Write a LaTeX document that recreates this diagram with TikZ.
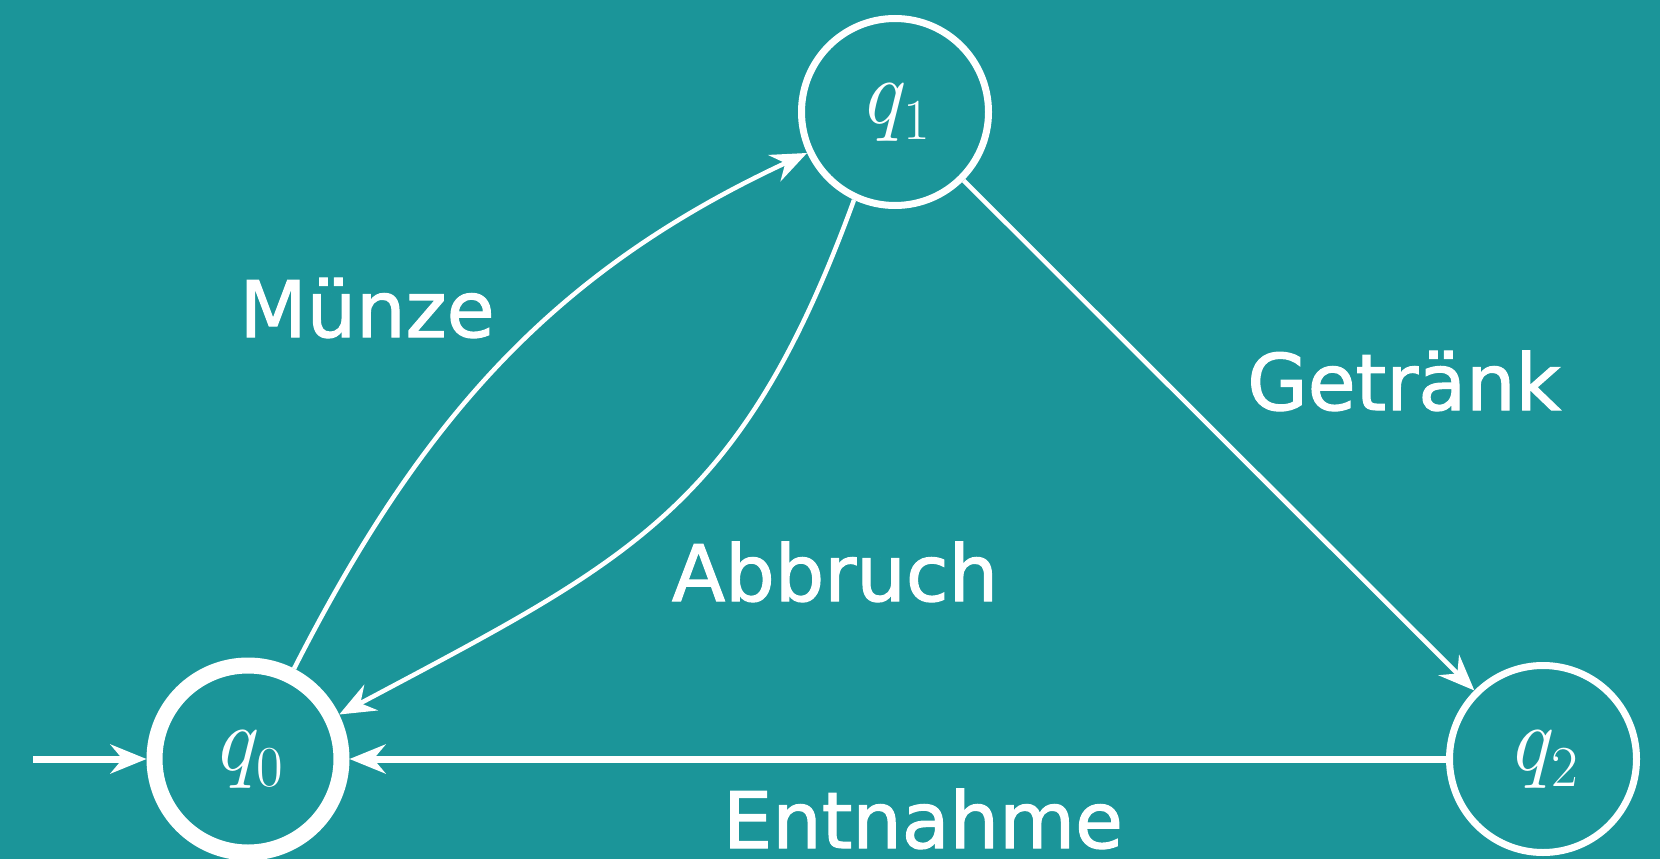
\documentclass[tikz,border=0pt]{standalone}
\usepackage{amsmath}
\usepackage{fontspec}
\setmainfont{DejaVu Sans}
\newfontfamily\beschriftfont[FakeBold=1.5]{DejaVu Sans}
\newfontfamily\zustandfont{Latin Modern Roman}
\usepackage{tikz}
\usetikzlibrary{arrows.meta,positioning}
\definecolor{bgteal}{RGB}{27,149,153}
\newcommand{\zname}[2]{{\zustandfont\itshape #1}\kern0.03em\raisebox{-0.18em}{\fontsize{58}{58}\selectfont\zustandfont #2}}
\tikzset{
  zustand/.style={circle,draw=white,line width=7pt,minimum size=187pt,inner sep=0pt,text=white,font=\fontsize{92}{100}\selectfont},
  startzustand/.style={zustand,line width=16pt},
  uebergang/.style={draw=white,line width=4.5pt,-{Stealth[length=36pt,width=29pt,inset=12pt]}},
  beschriftung/.style={text=white,anchor=base,inner sep=0pt,font=\beschriftfont\fontsize{78}{90}\selectfont},
}

\begin{document}
\begin{tikzpicture}[x=1pt,y=1pt,yscale=-1,xscale=1]
%Background
\fill[bgteal] (0,0) rectangle (1660,859);
\useasboundingbox (0,0) rectangle (1660,859);

%Shape: Circle [q0]
\node[startzustand] (q0) at (248,759) {\zname{q}{0}};
%Shape: Circle [q1]
\node[zustand] (q1) at (895,112) {\zname{q}{1}};
%Shape: Circle [q2]
\node[zustand] (q2) at (1543,759) {\zname{q}{2}};
\coordinate (init) at (33,759);

%Straight Lines [init]
\draw[uebergang,line width=7pt] (init) -- (q0);

%Curve Lines [muenze]
\draw[uebergang] (q0.63) .. controls +(127,-249) and +(-254,118) .. (q1.205);
%Curve Lines [abbruch]
\draw[uebergang] (q1.245) .. controls +(-113,310) and +(291,-155) .. (q0.26);

%Straight Lines [getraenk]
\draw[uebergang] (q1) -- (q2);
%Straight Lines [entnahme]
\draw[uebergang,line width=7pt] (q2) -- (q0);

% Text Node
\node[beschriftung] (muenze) at (367,337) {Münze};
% Text Node
\node[beschriftung] (getraenk) at (1404,410) {Getränk};
% Text Node
\node[beschriftung] (abbruch) at (835,601) {Abbruch};
% Text Node
\node[beschriftung] (entnahme) at (923,848) {Entnahme};

\end{tikzpicture}
\end{document}
